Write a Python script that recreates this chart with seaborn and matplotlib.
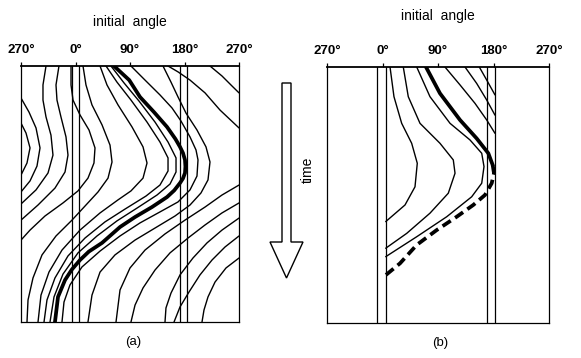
import matplotlib
matplotlib.use("Agg")
import matplotlib.pyplot as plt
from matplotlib.patches import Polygon
import seaborn as sns

# ---------------- data (x: angle in degrees, y: time 0..100, downward) ----------------
TICK_POS = [-90, 0, 90, 180, 270]
TICK_LABELS = ["270°", "0°", "90°", "180°", "270°"]

# panel (a) vertical band lines
A_BANDS = [-5.7, 5.8, 172.6, 183.6]
# panel (b) vertical band lines
B_BANDS = [-8.4, 5.2, 169.0, 182.4]

# ---- panel (a) curves ----
A_C1_DEG = [-90, -81.7, -75.1, -80.1, -90]
A_C1_T = [22.3, 26.2, 32.0, 37.9, 42.6]
A_C2_DEG = [-90, -76.8, -65.2, -58.6, -63.6, -75.1, -90]
A_C2_T = [12.5, 18.0, 24.2, 32.0, 39.1, 44.9, 49.2]
A_C3_DEG = [-48.7, -53.7, -53.7, -48.7, -40.5, -37.2, -45.4, -65.2, -90]
A_C3_T = [0, 7.4, 13.3, 19.9, 27.0, 34.8, 41.8, 48.4, 53.9]
A_C4_DEG = [-27.3, -32.2, -30.6, -24.0, -15.7, -12.4, -17.3, -33.9, -61.9, -90]
A_C4_T = [0, 7.4, 13.3, 19.9, 27.7, 34.8, 41.4, 47.7, 54.3, 60.2]
A_I4_DEG = [-7.4, -7.4, -4.1, 7.4, 22.3, 32.2, 30.5, 20.6, 4.1, -20.7, -50.4, -75.1, -90]
A_I4_T = [0, 7.4, 13.3, 19.1, 25.0, 32.0, 37.9, 43.8, 48.8, 53.5, 58.6, 64.1, 68.0]
A_I3_DEG = [12.4, 17.3, 27.2, 43.8, 57.0, 60.3, 53.7, 37.2, 17.3, -5.8, -32.2, -55.3, -70.2, -78.4, -80.1]
A_I3_T = [0, 7.4, 15.2, 23.0, 30.9, 37.5, 43.8, 49.2, 54.3, 60.2, 66.4, 73.8, 82.8, 91.4, 100]
A_I2_DEG = [40.5, 52.0, 70.2, 93.3, 111.5, 118.1, 111.5, 91.6, 70.2, 40.5, 7.4, -22.3, -43.8, -57.0, -61.9]
A_I2_T = [0, 7.4, 15.2, 23.8, 31.6, 37.9, 43.8, 48.8, 52.3, 57.4, 64.1, 71.9, 80.5, 89.5, 100]
A_I1_DEG = [50.4, 68.5, 91.6, 118.1, 139.5, 152.8, 152.8, 139.5, 116.4, 81.7, 48.7, 15.7, -12.4, -33.9, -47.1, -52.0]
A_I1_T = [0, 6.3, 13.3, 21.9, 29.7, 35.9, 41.0, 46.5, 50.8, 55.9, 60.9, 67.2, 74.2, 82.8, 91.4, 100]
A_I0_DEG = [58.6, 80.1, 104.9, 131.3, 152.8, 166.0, 166.0, 156.1, 134.6, 101.6, 68.5, 35.5, 4.1, -20.7, -35.5, -42.1]
A_I0_T = [0, 6.6, 13.7, 21.9, 29.7, 35.9, 41.4, 46.1, 50.4, 55.5, 60.5, 66.4, 73.0, 81.3, 90.2, 100]
A_THICK_DEG = [63.6, 88.7, 106.5, 129.6, 151.1, 165.0, 172.6, 177.5, 180.8, 181.5, 180.8, 177.5,
               172.6, 163.0, 151.1, 126.3, 98.3, 73.5, 43.8, 22.0, 7.4, -6.0, -17.3, -28.9, -33.9]
A_THICK_T = [0, 5.5, 12.1, 18.0, 23.8, 28.5, 31.6, 34.0, 36.7, 39.3, 41.8, 43.9,
             45.7, 48.6, 51.2, 55.1, 59.0, 62.9, 69.1, 72.5, 75.8, 79.5, 83.6, 90.2, 100]
A_O1_DEG = [91.6, 114.8, 139.5, 159.4, 174.2, 189.1, 199.0, 202.3, 200.6, 189.1, 169.3, 139.5, 106.5, 73.5, 40.5, 10.7, -9.1, -19.0, -22.3]
A_O1_T = [0, 5.5, 11.3, 16.4, 21.5, 27.7, 32.8, 36.7, 43.0, 48.4, 53.1, 57.0, 61.3, 66.4, 72.3, 78.5, 85.5, 92.2, 100]
A_O2_DEG = [144.5, 157.7, 169.3, 182.5, 200.6, 215.5, 222.1, 218.8, 207.2, 189.1, 164.3, 131.3, 98.3, 65.2, 40.5, 27.2, 20.6]
A_O2_T = [0, 6.3, 12.1, 18.4, 25.0, 31.6, 37.5, 44.5, 49.6, 54.3, 58.6, 63.3, 68.0, 73.8, 80.5, 89.5, 100]
A_O3_DEG = [152.8, 169.3, 189.1, 213.9, 238.6, 270]
A_O3_T = [0, 2.3, 5.5, 10.5, 17.2, 24.2]
A_TR_DEG = [222.1, 241.9, 258.4, 270]
A_TR_T = [0, 3.9, 7.8, 10.5]
A_R1_DEG = [270, 241.9, 213.9, 180.8, 147.8, 114.8, 90.0, 73.5, 66.9]
A_R1_T = [46.5, 50.4, 55.1, 60.2, 65.6, 71.9, 78.9, 87.5, 100]
A_R2_DEG = [270, 241.9, 213.9, 185.8, 156.1, 131.3, 111.5, 98.3, 91.6]
A_R2_T = [53.5, 57.4, 62.1, 67.2, 73.0, 79.7, 86.7, 93.4, 100]
A_R3_DEG = [270, 241.9, 217.2, 194.0, 172.6, 157.7, 149.4, 147.8]
A_R3_T = [59.4, 64.1, 69.1, 75.0, 81.6, 88.7, 94.5, 100]
A_R4_DEG = [270, 246.9, 225.4, 205.6, 187.4, 172.6, 162.7]
A_R4_T = [66.4, 70.7, 75.8, 81.6, 88.3, 94.1, 100]
A_R5_DEG = [270, 248.5, 230.4, 218.8, 212.2, 208.9]
A_R5_T = [75.0, 78.9, 84.4, 90.2, 95.3, 100]

# ---- panel (b) curves ----
B_1_DEG = [12.2, 18.6, 31.1, 47.3, 56.4, 52.7, 36.5, 5.2]
B_1_T = [0, 11.6, 22.0, 29.8, 37.6, 46.8, 53.9, 60.4]
B_2_DEG = [33.7, 41.8, 60.8, 93.2, 114.8, 117.6, 106.7, 77.0, 39.2, 5.2]
B_2_T = [0, 11.6, 22.0, 29.8, 36.3, 41.5, 49.3, 57.1, 65.0, 70.8]
B_3_DEG = [55.5, 77.0, 109.5, 141.9, 160.9, 164.6, 160.9, 144.6, 104.1, 55.5, 5.2]
B_3_T = [0, 11.6, 22.0, 28.5, 33.7, 38.9, 45.4, 50.7, 58.5, 66.3, 74.1]
B_THICK_DEG = [70.5, 93.2, 125.7, 152.7, 171.6, 178.7]
B_THICK_T = [0, 10.3, 20.7, 27.9, 33.7, 38.3]
B_DASH_DEG = [178.7, 180.8, 177.1, 166.2, 147.2, 120.3, 87.9, 55.5, 28.4, 5.2]
B_DASH_T = [38.3, 41.5, 45.4, 50.0, 53.9, 58.5, 63.7, 69.5, 76.7, 81.3]
B_O1_DEG = [101.3, 125.7, 150.0, 169.0, 182.4]
B_O1_T = [0, 7.0, 14.2, 20.7, 25.9]
B_O2_DEG = [133.8, 152.7, 169.0, 182.4]
B_O2_T = [0, 6.4, 12.9, 18.8]
B_O3_DEG = [157.0, 169.0, 182.4]
B_O3_T = [0, 5.1, 10.9]

# ---------------- styling ----------------
sns.set_theme(style="white")
plt.rcParams["font.family"] = ["Liberation Sans", "DejaVu Sans"]
plt.rcParams["text.color"] = "black"
plt.rcParams["axes.edgecolor"] = "black"
plt.rcParams["axes.linewidth"] = 0.9

W, H = 581, 358
fig = plt.figure(figsize=(W / 100, H / 100), dpi=100)
fig.patch.set_facecolor("white")


def px_axes(x0, y0, x1, y1):
    return fig.add_axes([x0 / W, 1 - y1 / H, (x1 - x0) / W, (y1 - y0) / H])


def curve(ax, xs, ys, lw=1.0, ls="-"):
    sns.lineplot(x=xs, y=ys, ax=ax, sort=False, estimator=None,
                 color="black", linewidth=lw, linestyle=ls)
    ln = ax.lines[-1]
    ln.set_solid_joinstyle("round")
    ln.set_solid_capstyle("round")
    return ln


def setup(ax, bands):
    ax.set_xlim(-90, 270)
    ax.set_ylim(100, 0)
    for b in bands:
        ax.axvline(b, color="black", lw=0.9)
    ax.set_xticks(TICK_POS)
    ax.set_xticklabels(TICK_LABELS, fontsize=9.5, fontweight="bold", color="black")
    ax.set_yticks([])
    ax.tick_params(axis="x", top=True, labeltop=True, bottom=False, labelbottom=False,
                   direction="out", length=3, width=0.9, pad=4, colors="black")
    ax.set_xlabel("")
    ax.set_ylabel("")
    for s in ax.spines.values():
        s.set_visible(True)
        s.set_color("black")
        s.set_linewidth(0.9)
    ax.spines["top"].set_linewidth(1.3)


# panel (a)
axa = px_axes(21, 66, 239, 322)
a_thin = [
    (A_C1_DEG, A_C1_T), (A_C2_DEG, A_C2_T), (A_C3_DEG, A_C3_T), (A_C4_DEG, A_C4_T),
    (A_I4_DEG, A_I4_T), (A_I3_DEG, A_I3_T), (A_I2_DEG, A_I2_T), (A_I1_DEG, A_I1_T),
    (A_I0_DEG, A_I0_T), (A_O1_DEG, A_O1_T), (A_O2_DEG, A_O2_T), (A_O3_DEG, A_O3_T),
    (A_TR_DEG, A_TR_T), (A_R1_DEG, A_R1_T), (A_R2_DEG, A_R2_T), (A_R3_DEG, A_R3_T),
    (A_R4_DEG, A_R4_T), (A_R5_DEG, A_R5_T),
]
for xs, ys in a_thin:
    curve(axa, xs, ys)
curve(axa, A_THICK_DEG, A_THICK_T, lw=2.7)
setup(axa, A_BANDS)

# panel (b)
axb = px_axes(327, 67, 549, 323)
b_thin = [
    (B_1_DEG, B_1_T), (B_2_DEG, B_2_T), (B_3_DEG, B_3_T),
    (B_O1_DEG, B_O1_T), (B_O2_DEG, B_O2_T), (B_O3_DEG, B_O3_T),
]
for xs, ys in b_thin:
    curve(axb, xs, ys)
curve(axb, B_THICK_DEG, B_THICK_T, lw=2.7)
dl = curve(axb, B_DASH_DEG, B_DASH_T, lw=2.7, ls=(0, (2.6, 1.4)))
dl.set_dash_capstyle("butt")
setup(axb, B_BANDS)

# overlay for annotations (arrow, texts)
ov = fig.add_axes([0, 0, 1, 1], zorder=-1)
ov.set_xlim(0, W)
ov.set_ylim(H, 0)
ov.axis("off")
arrow = [(282, 83), (291, 83), (291, 242), (303, 242), (286.5, 278), (270, 242), (282, 242)]
ov.add_patch(Polygon(arrow, closed=True, facecolor="white", edgecolor="black", lw=1.0))

fig.text(130 / W, 1 - 22 / H, "initial  angle", ha="center", va="center", fontsize=10, color="black")
fig.text(437.5 / W, 1 - 16 / H, "initial  angle", ha="center", va="center", fontsize=10, color="black")
fig.text(308 / W, 1 - 170 / H, "time", ha="center", va="center", fontsize=10, rotation=90, color="black")
fig.text(133 / W, 1 - 342 / H, "(a)", ha="center", va="center", fontsize=9.5, color="black")
fig.text(440 / W, 1 - 343 / H, "(b)", ha="center", va="center", fontsize=9.5, color="black")

fig.savefig("out.png", dpi=100, facecolor="white")
